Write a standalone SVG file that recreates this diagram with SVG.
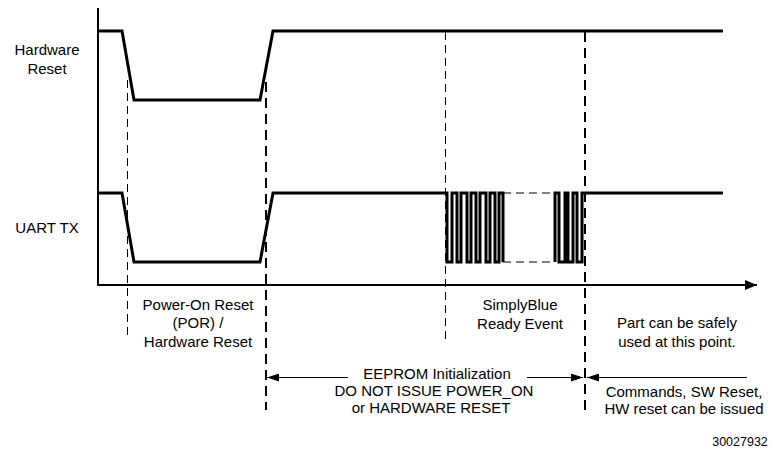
<svg xmlns="http://www.w3.org/2000/svg" width="771" height="450" viewBox="0 0 771 450">
<style>
  text { font-family: "Liberation Sans", Arial, sans-serif; font-size: 15px; fill: #000; text-anchor: middle; }
  .sig { fill: none; stroke: #000; stroke-width: 3; stroke-linejoin: miter; stroke-linecap: butt; }
  .axis { fill: none; stroke: #000; stroke-width: 2; }
  .thin { fill: none; stroke: #000; stroke-width: 1; stroke-dasharray: 8 5; }
  .thick { fill: none; stroke: #000; stroke-width: 2; stroke-dasharray: 10 6; }
  .arr { fill: none; stroke: #000; stroke-width: 1; }
</style>
<defs>
  <marker id="ah" viewBox="0 0 12 8" refX="12" refY="4" markerWidth="12" markerHeight="8" markerUnits="userSpaceOnUse" orient="auto">
    <path d="M0,0 L12,4 L0,8 Z" fill="#000"/>
  </marker>
  <marker id="axh" viewBox="0 0 12 10" refX="12" refY="5" markerWidth="12" markerHeight="10" markerUnits="userSpaceOnUse" orient="auto">
    <path d="M0,0 L12,5 L0,10 Z" fill="#000"/>
  </marker>
</defs>
<rect width="771" height="450" fill="#fff"/>

<g id="axes">
  <line class="axis" x1="98" y1="8" x2="98" y2="286"/>
  <line class="axis" x1="97" y1="285" x2="757" y2="285" marker-end="url(#axh)"/>
</g>

<g id="connectors">
  <line class="thin" x1="127.5" y1="80" x2="127.5" y2="340"/>
  <line class="thick" x1="266" y1="82" x2="266" y2="410"/>
  <line class="thin" x1="445.5" y1="32" x2="445.5" y2="343"/>
  <line class="thick" x1="585" y1="32" x2="585" y2="415"/>
  <line class="thin" x1="503" y1="193" x2="555" y2="193"/>
  <line class="thin" x1="503" y1="262" x2="555" y2="262"/>
  <line class="arr" x1="348" y1="377.5" x2="267" y2="377.5" marker-end="url(#ah)"/>
  <line class="arr" x1="527" y1="377.5" x2="583" y2="377.5" marker-end="url(#ah)"/>
  <line class="arr" x1="747" y1="377.5" x2="587" y2="377.5" marker-end="url(#ah)"/>
</g>

<g id="hardware-reset">
  <text x="47" y="55">Hardware</text>
  <text x="47" y="74">Reset</text>
  <polyline class="sig" points="98,31 122,31 134,100 260,100 273,31 723,31"/>
</g>

<g id="uart-tx">
  <text x="47" y="233">UART TX</text>
  <polyline class="sig" points="98,193 122,193 134,262 260,262 273,193 447,193 447,262 452,262 452,193 457,193 457,262 461,262 461,193 467,193 467,262 471,262 471,193 476,193 476,262 480,262 480,193 486,193 486,262 490,262 490,193 495,193 495,262 499,262 499,193 503,193 503,262"/>
  <polyline class="sig" points="555,262 555,193 559,193 559,262 565,262 565,193 568,193 568,262 573,262 573,193 577,193 577,262 582,262 582,193 723,193"/>
</g>

<g id="por-label">
  <text x="198" y="310">Power-On Reset</text>
  <text x="198" y="328">(POR) /</text>
  <text x="198" y="347">Hardware Reset</text>
</g>

<g id="ready-label">
  <text x="520" y="310">SimplyBlue</text>
  <text x="520" y="329">Ready Event</text>
</g>

<g id="safe-label">
  <text x="677" y="328">Part can be safely</text>
  <text x="677" y="347">used at this point.</text>
</g>

<g id="eeprom-label">
  <text x="437" y="379">EEPROM Initialization</text>
  <text x="434" y="396">DO NOT ISSUE POWER_ON</text>
  <text x="431" y="413">or HARDWARE RESET</text>
</g>

<g id="commands-label">
  <text x="684" y="397">Commands, SW Reset,</text>
  <text x="684" y="414">HW reset can be issued</text>
</g>

<g id="figure-number">
  <text x="740" y="446" style="font-size:12.5px">30027932</text>
</g>
</svg>
